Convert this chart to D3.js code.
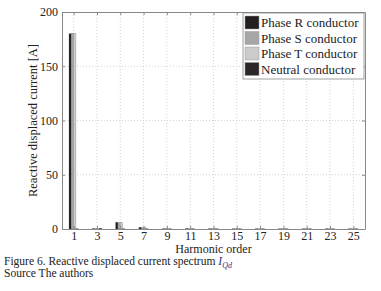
<!DOCTYPE html>
<html>
<head>
<meta charset="utf-8">
<script src="https://cdn.jsdelivr.net/npm/d3@7"></script>
<style>
  body { margin: 0; background: #fff; }
</style>
</head>
<body>
<div id="chart"></div>
<script>
// harmonic orders and reactive displaced current per conductor [A]
let harmonics = [1, 3, 5, 7, 9, 11, 13, 15, 17, 19, 21, 23, 25];
let phaseR = [180, 0.4, 6.2, 1.6, 0.3, 0.4, 0.3, 0.2, 0.2, 0.2, 0.2, 0.2, 0.2];
let phaseS = [180.5, 0.4, 6.0, 1.5, 0.3, 0.4, 0.3, 0.2, 0.2, 0.2, 0.2, 0.2, 0.2];
let phaseT = [180.2, 0.4, 6.1, 1.5, 0.3, 0.4, 0.3, 0.2, 0.2, 0.2, 0.2, 0.2, 0.2];
let neutral = [0.3, 0.8, 0.2, 0.2, 0.2, 0.2, 0.2, 0.2, 0.2, 0.2, 0.2, 0.2, 0.2];
let seriesNames = ["Phase R conductor", "Phase S conductor", "Phase T conductor", "Neutral conductor"];
let seriesColors = ["#231f20", "#a6a6a6", "#cccccc", "#2b2627"];
let yTicks = [0, 50, 100, 150, 200];

var FONT = "Liberation Serif";
var W = 381, H = 291;
var margin = {top: 12, right: 16, bottom: 62, left: 62},
    width = W - margin.left - margin.right,
    height = H - margin.top - margin.bottom;

var svg = d3.select("#chart").append("svg")
    .attr("width", W).attr("height", H)
    .style("font-family", FONT);
var g = svg.append("g")
    .attr("transform", `translate(${margin.left},${margin.top})`);

var x = d3.scaleLinear().domain([0, 26]).range([0, width]);
var y = d3.scaleLinear().domain([0, 200]).range([height, 0]);

// grid lines (dotted)
g.append("g").selectAll("line")
    .data(harmonics).join("line")
    .attr("x1", d => x(d)).attr("x2", d => x(d))
    .attr("y1", 0).attr("y2", height)
    .attr("stroke", "#c8c8c8").attr("stroke-width", 0.8)
    .attr("stroke-dasharray", "1,2");
g.append("g").selectAll("line")
    .data(yTicks.slice(1, -1)).join("line")
    .attr("x1", 0).attr("x2", width)
    .attr("y1", d => y(d)).attr("y2", d => y(d))
    .attr("stroke", "#c8c8c8").attr("stroke-width", 0.8)
    .attr("stroke-dasharray", "1,2");

// bars
var data = [phaseR, phaseS, phaseT, neutral];
var groupW = 0.8;
var bx = d3.scaleBand().domain(d3.range(4)).range([-groupW / 2, groupW / 2]);
data.forEach(function (vals, si) {
    g.append("g").attr("fill", seriesColors[si])
        .selectAll("rect")
        .data(harmonics.map((h, i) => ({h: h, v: vals[i]})))
        .join("rect")
        .attr("x", d => x(d.h + bx(si)))
        .attr("width", x(bx.bandwidth()) - x(0))
        .attr("y", d => y(d.v))
        .attr("height", d => y(0) - y(d.v))
        .attr("stroke", "#555").attr("stroke-width", 0.2);
});

// axes
var xAxis = g.append("g")
    .attr("transform", `translate(0,${height})`)
    .call(d3.axisBottom(x).tickValues(harmonics).tickSizeInner(-3).tickSizeOuter(0).tickPadding(2));
var xTop = g.append("g")
    .call(d3.axisTop(x).tickValues(harmonics).tickSizeInner(-3).tickSizeOuter(0).tickFormat(""));
var yAxis = g.append("g")
    .call(d3.axisLeft(y).tickValues(yTicks).tickSizeInner(-3).tickSizeOuter(0).tickPadding(4));
var yRight = g.append("g")
    .attr("transform", `translate(${width},0)`)
    .call(d3.axisRight(y).tickValues(yTicks).tickSizeInner(-3).tickSizeOuter(0).tickFormat(""));
[xAxis, xTop, yAxis, yRight].forEach(a => {
    a.attr("font-family", null).attr("font-size", null);
    a.selectAll("path, line").attr("stroke", "#888");
    a.selectAll("text").attr("fill", "#222").style("font-size", "12px");
});

// axis titles
svg.append("text")
    .attr("x", margin.left + width / 2).attr("y", 253)
    .attr("text-anchor", "middle").attr("fill", "#222")
    .style("font-size", "12px").text("Harmonic order");
svg.append("text")
    .attr("transform", `translate(37,${margin.top + height / 2}) rotate(-90)`)
    .attr("text-anchor", "middle").attr("fill", "#222")
    .style("font-size", "12.5px").text("Reactive displaced current [A]");

// legend
var leg = g.append("g").attr("transform", `translate(${width - 122},1)`);
leg.append("rect").attr("width", 121).attr("height", 66)
    .attr("fill", "#fff").attr("stroke", "#888").attr("stroke-width", 0.8);
seriesNames.forEach(function (name, i) {
    var row = leg.append("g").attr("transform", `translate(2,${3 + i * 15.5})`);
    row.append("rect").attr("width", 14).attr("height", 13)
        .attr("fill", seriesColors[i]).attr("stroke", "#999").attr("stroke-width", 0.5);
    row.append("text").attr("x", 16).attr("y", 11).attr("fill", "#222")
        .style("font-size", "13px").text(name);
});

// caption
var cap = svg.append("text").attr("x", 4).attr("y", 265).attr("fill", "#222")
    .style("font-size", "11.5px");
cap.append("tspan").text("Figure 6. Reactive displaced current spectrum ");
cap.append("tspan").style("font-style", "italic").attr("fill", "#2a3580").text("I");
cap.append("tspan").style("font-style", "italic").attr("fill", "#2a3580")
    .attr("dy", 3).style("font-size", "8px").text("Qd");
svg.append("text").attr("x", 4).attr("y", 277).attr("fill", "#222")
    .style("font-size", "11.5px").text("Source The authors");
</script>
</body>
</html>
